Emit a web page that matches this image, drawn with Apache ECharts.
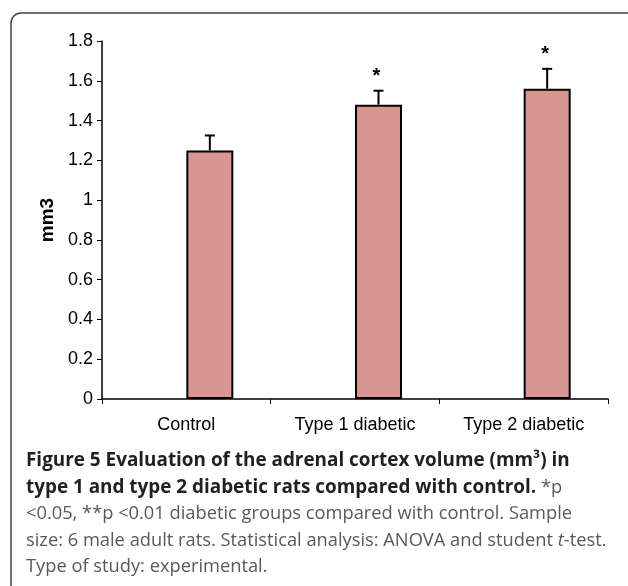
<!DOCTYPE html>
<html>
<head>
<meta charset="utf-8">
<script src="https://cdn.jsdelivr.net/npm/echarts@6/dist/echarts.min.js"></script>
<style>
    html, body { margin: 0; padding: 0; background: #fff; }
    #main { width: 628px; height: 586px; }
</style>
</head>
<body>
<div id="main"></div>
<script>
// data
var categories = ['Control', 'Type 1 diabetic', 'Type 2 diabetic']
var volumes = [1.25, 1.48, 1.56]
var errors = [0.075, 0.07, 0.10]
var marks = ['', '*', '*']
var yName = 'mm3'

// caption lines
var caption = [
    '{b|Figure 5 Evaluation of the adrenal cortex volume (mm³) in}',
    '{b|type 1 and type 2 diabetic rats compared with control.}{r| *p}',
    '{r|<0.05, **p <0.01 diabetic groups compared with control. Sample}',
    '{r|size: 6 male adult rats. Statistical analysis: ANOVA and student }{i|t}{r|-test.}',
    '{r|Type of study: experimental.}'
]

var barW = 47
var chart = echarts.init(document.getElementById('main'))

var graphics = [{
    type: 'rect',
    shape: {x: 11, y: 13, width: 640, height: 582, r: 10},
    style: {fill: 'none', stroke: '#444', lineWidth: 1.5},
    silent: true
}]
for (var i = 0; i < caption.length; i++) {
    graphics.push({
        type: 'text',
        x: 26,
        y: 461 + i * 26.5,
        style: {
            text: caption[i],
            verticalAlign: 'middle',
            rich: {
                b: {fontFamily: 'Open Sans', fontWeight: 'bold', fontSize: 18.9, fill: '#231f20'},
                r: {fontFamily: 'Open Sans', fontSize: 18.3, fill: '#58595b'},
                i: {fontFamily: 'Open Sans', fontStyle: 'italic', fontSize: 18.3, fill: '#58595b'}
            }
        },
        silent: true
    })
}

chart.setOption({
    animation: false,
    backgroundColor: '#fff',
    textStyle: {fontFamily: 'Liberation Sans'},
    grid: {left: 102, right: 20, top: 41, bottom: 187},
    xAxis: {
        type: 'category',
        data: categories,
        axisLine: {lineStyle: {color: '#000', width: 1.5}},
        axisTick: {show: true, length: 5, lineStyle: {color: '#000'}},
        axisLabel: {color: '#000', fontSize: 18, margin: 17, fontFamily: 'Liberation Sans'}
    },
    yAxis: {
        type: 'value',
        min: 0,
        max: 1.8,
        interval: 0.2,
        name: yName,
        nameLocation: 'middle',
        nameGap: 43,
        nameTextStyle: {color: '#000', fontSize: 19, fontWeight: 'bold', fontFamily: 'Liberation Sans'},
        axisLine: {show: true, lineStyle: {color: '#000', width: 1.5}},
        axisTick: {show: true, length: 5, lineStyle: {color: '#000'}},
        axisLabel: {color: '#000', fontSize: 18, margin: 9, fontFamily: 'Liberation Sans'},
        splitLine: {show: false}
    },
    series: [
        {
            // empty slot, shifts the bars right like the original
            type: 'bar',
            data: categories.map(function () { return null }),
            barWidth: barW,
            barGap: '0%'
        },
        {
            type: 'bar',
            data: volumes,
            barWidth: barW,
            barGap: '0%',
            itemStyle: {color: '#d99594', borderColor: '#000', borderWidth: 2}
        },
        {
            type: 'custom',
            data: volumes.map(function (v, k) { return [k, v, errors[k]] }),
            z: 5,
            renderItem: function (params, api) {
                var k = api.value(0)
                var base = api.coord([k, api.value(1)])
                var top = api.coord([k, api.value(1) + api.value(2)])
                var x = base[0] + barW / 2
                var kids = [
                    {type: 'line', shape: {x1: x, y1: base[1], x2: x, y2: top[1]}, style: {stroke: '#000', lineWidth: 2}},
                    {type: 'line', shape: {x1: x - 5, y1: top[1], x2: x + 5, y2: top[1]}, style: {stroke: '#000', lineWidth: 2}}
                ]
                if (marks[k]) {
                    kids.push({
                        type: 'text',
                        x: x - 2,
                        y: top[1] - 14,
                        style: {text: marks[k], font: 'bold 20px Liberation Sans', fill: '#000', align: 'center', verticalAlign: 'middle'}
                    })
                }
                return {type: 'group', children: kids}
            }
        }
    ],
    graphic: graphics
})
</script>
</body>
</html>
